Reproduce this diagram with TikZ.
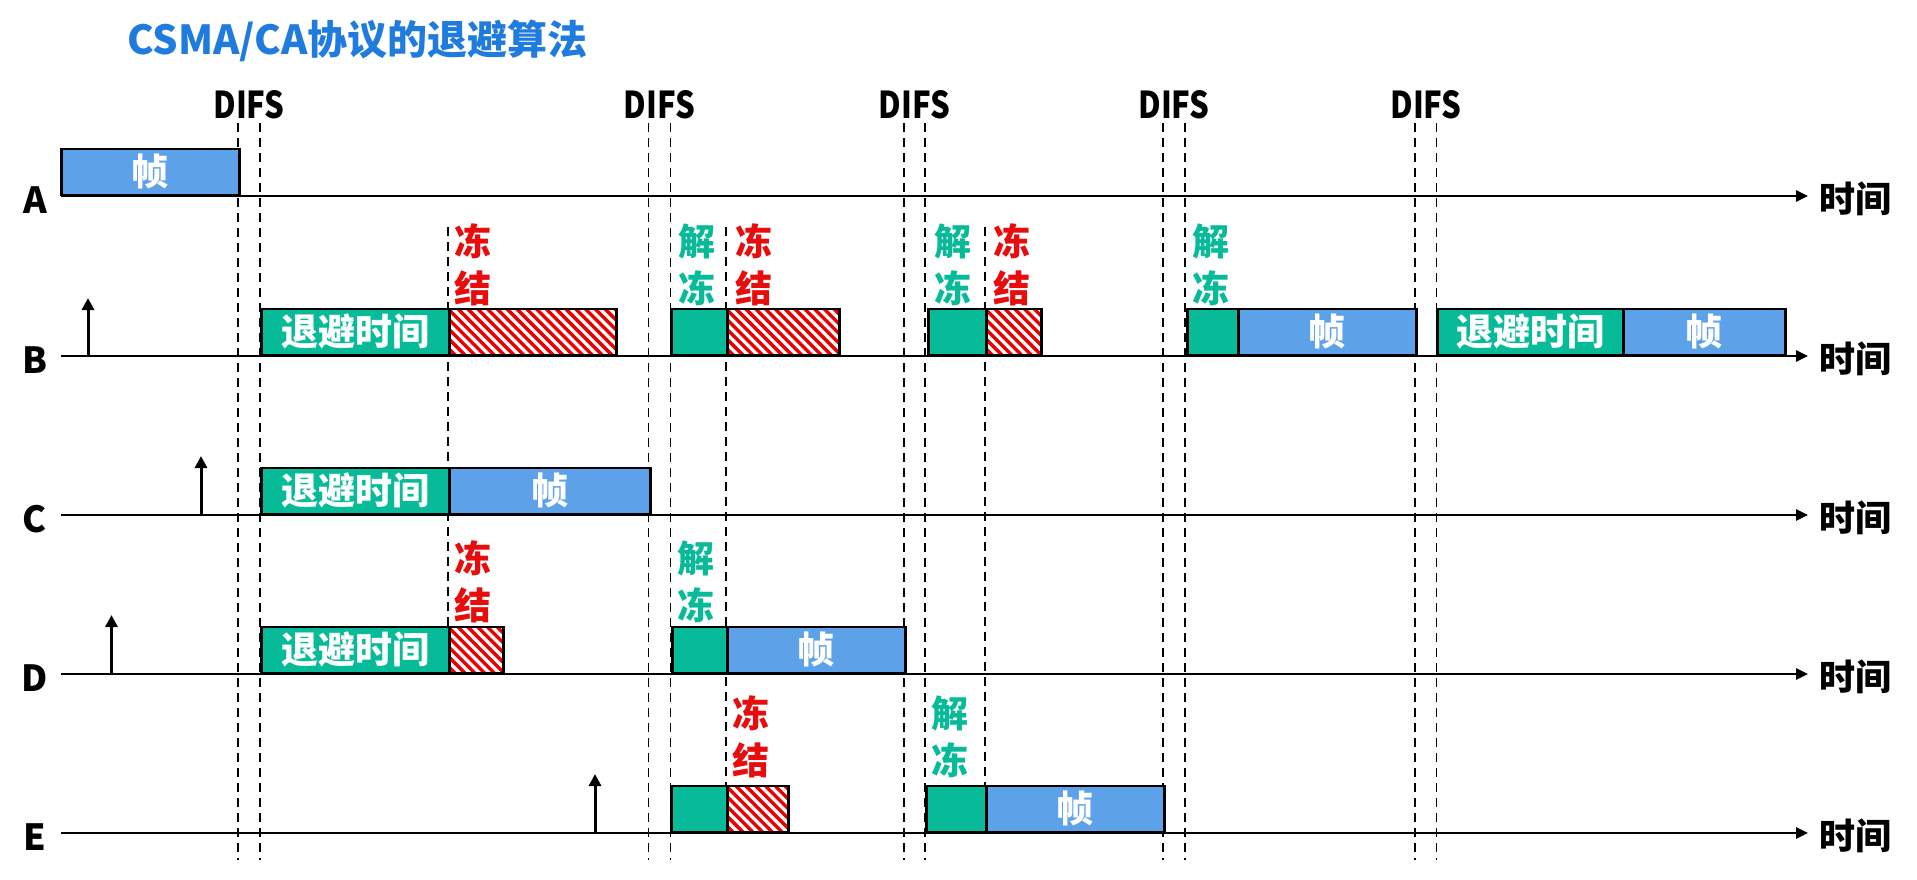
\documentclass[tikz,border=0pt]{standalone}
\usepackage{fontspec}
\setmainfont{Noto Sans CJK SC}
\newfontfamily\condfont{Noto Sans CJK SC}[FakeStretch=0.84]
\usetikzlibrary{arrows.meta}
\definecolor{mygreen}{RGB}{7,187,153}
\definecolor{myblue}{RGB}{93,162,233}
\definecolor{titleblue}{RGB}{31,123,222}
\definecolor{myred}{RGB}{232,12,12}
\definecolor{hatchred}{RGB}{235,0,0}
\tikzset{
  segbox/.style={draw=black, line width=2.5pt, inner sep=0pt, minimum height=46pt,
    anchor=south west, text=white, font=\fontsize{37}{37}\selectfont\bfseries},
  gbox/.style={segbox, fill=mygreen},
  bbox/.style={segbox, fill=myblue},
  hbox/.style={segbox, fill=white, path picture={
      \foreach \i in {-60,-50.2,...,200}{
        \draw[hatchred, line width=3.4pt]
          ([xshift=\i pt]path picture bounding box.north west) -- ++(70,70);
      }}},
  axisline/.style={line width=2.5pt, -{Triangle[length=12pt,width=11pt]}},
  uparrow/.style={line width=3pt, -{Triangle[length=12pt,width=12pt]}},
  difsline/.style={line width=1.8pt, dash pattern=on 9pt off 6pt},
  freezeline/.style={line width=1.8pt, dash pattern=on 9pt off 6pt},
  rowlabel/.style={inner sep=0pt, font=\fontsize{36}{36}\selectfont\bfseries},
  difslabel/.style={inner sep=0pt, font=\condfont\fontsize{37}{37}\selectfont\bfseries},
  marklabel/.style={inner sep=0pt, align=center, font=\fontsize{37}{47}\selectfont\bfseries},
  frz/.style={marklabel, text=myred},
  unfrz/.style={marklabel, text=mygreen},
}
\begin{document}
\begin{tikzpicture}[x=1pt,y=-1pt]
\useasboundingbox (0,0) rectangle (1917,879);

% title
\node[anchor=west, inner sep=0pt, text=titleblue, font=\fontsize{40}{40}\selectfont\bfseries] (title) at (127,41) {CSMA/CA协议的退避算法};

% DIFS labels and dashed guide lines
\node[difslabel] (difs1) at (249,104.5) {DIFS};
\node[difslabel] (difs2) at (659.5,104.5) {DIFS};
\node[difslabel] (difs3) at (914.5,104.5) {DIFS};
\node[difslabel] (difs4) at (1174,104.5) {DIFS};
\node[difslabel] (difs5) at (1426,104.5) {DIFS};
\foreach \x [count=\k] in {238,260,648.5,670.5,904,925,1163,1185,1415,1436.5}{
  \coordinate (g\k t) at (\x,123);
  \coordinate (g\k b) at (\x,860);
  \draw[difsline] (g\k t) -- (g\k b);
}
% freeze / unfreeze dashed lines
\coordinate (f1t) at (448,227); \coordinate (f1b) at (448,628);
\coordinate (f2t) at (726,227); \coordinate (f2b) at (726,786);
\coordinate (f3t) at (985,227); \coordinate (f3b) at (985,786);
\draw[freezeline] (f1t) -- (f1b);
\draw[freezeline] (f2t) -- (f2b);
\draw[freezeline] (f3t) -- (f3b);

% axes and row labels
\foreach \r/\y in {A/196,B/356,C/515,D/674,E/833}{
  \node[rowlabel] (lab\r) at (35,\y+4) {\r};
  \coordinate (ax\r s) at (61,\y);
  \coordinate (ax\r e) at (1808,\y);
  \draw[axisline] (ax\r s) -- (ax\r e);
  \node[rowlabel] (time\r) at (1855.5,\y+3) {时间};
}

% station arrows
\coordinate (arBs) at (88,357);  \coordinate (arBe) at (88,298);
\coordinate (arCs) at (201,516); \coordinate (arCe) at (201,456);
\coordinate (arDs) at (111.5,675); \coordinate (arDe) at (111.5,615);
\coordinate (arEs) at (595,834); \coordinate (arEe) at (595,774);
\draw[uparrow] (arBs) -- (arBe);
\draw[uparrow] (arCs) -- (arCe);
\draw[uparrow] (arDs) -- (arDe);
\draw[uparrow] (arEs) -- (arEe);

% row A
\node[bbox, minimum width=178pt] (A1) at (60,196) {帧};

% row B
\node[gbox, minimum width=188pt] (B1) at (260,356) {退避时间};
\node[hbox, minimum width=167pt] (B2) at (448,356) {};
\node[gbox, minimum width=56pt]  (B3) at (670,356) {};
\node[hbox, minimum width=112pt] (B4) at (726,356) {};
\node[gbox, minimum width=58pt]  (B5) at (927,356) {};
\node[hbox, minimum width=55pt]  (B6) at (985,356) {};
\node[gbox, minimum width=51pt]  (B7) at (1186,356) {};
\node[bbox, minimum width=178pt] (B8) at (1237,356) {帧};
\node[gbox, minimum width=186pt] (B9) at (1436,356) {退避时间};
\node[bbox, minimum width=162pt] (B10) at (1622,356) {帧};
\node[frz]   (Bm1) at (472.5,265) {冻\\结};
\node[unfrz] (Bm2) at (697,265) {解\\冻};
\node[frz]   (Bm3) at (753.5,265) {冻\\结};
\node[unfrz] (Bm4) at (953,265) {解\\冻};
\node[frz]   (Bm5) at (1012,265) {冻\\结};
\node[unfrz] (Bm6) at (1211,265) {解\\冻};

% row C
\node[gbox, minimum width=188pt] (C1) at (260,515) {退避时间};
\node[bbox, minimum width=201pt] (C2) at (448,515) {帧};

% row D
\node[gbox, minimum width=188pt] (D1) at (260,674) {退避时间};
\node[hbox, minimum width=54pt]  (D2) at (448,674) {};
\node[gbox, minimum width=55pt]  (D3) at (671,674) {};
\node[bbox, minimum width=178pt] (D4) at (726,674) {帧};
\node[frz]   (Dm1) at (473,582) {冻\\结};
\node[unfrz] (Dm2) at (696,582) {解\\冻};

% row E
\node[gbox, minimum width=56pt]  (E1) at (670,833) {};
\node[hbox, minimum width=61pt]  (E2) at (726,833) {};
\node[gbox, minimum width=60pt]  (E3) at (925,833) {};
\node[bbox, minimum width=178pt] (E4) at (985,833) {帧};
\node[frz]   (Em1) at (750.5,737) {冻\\结};
\node[unfrz] (Em2) at (949.5,737) {解\\冻};
\end{tikzpicture}
\end{document}
